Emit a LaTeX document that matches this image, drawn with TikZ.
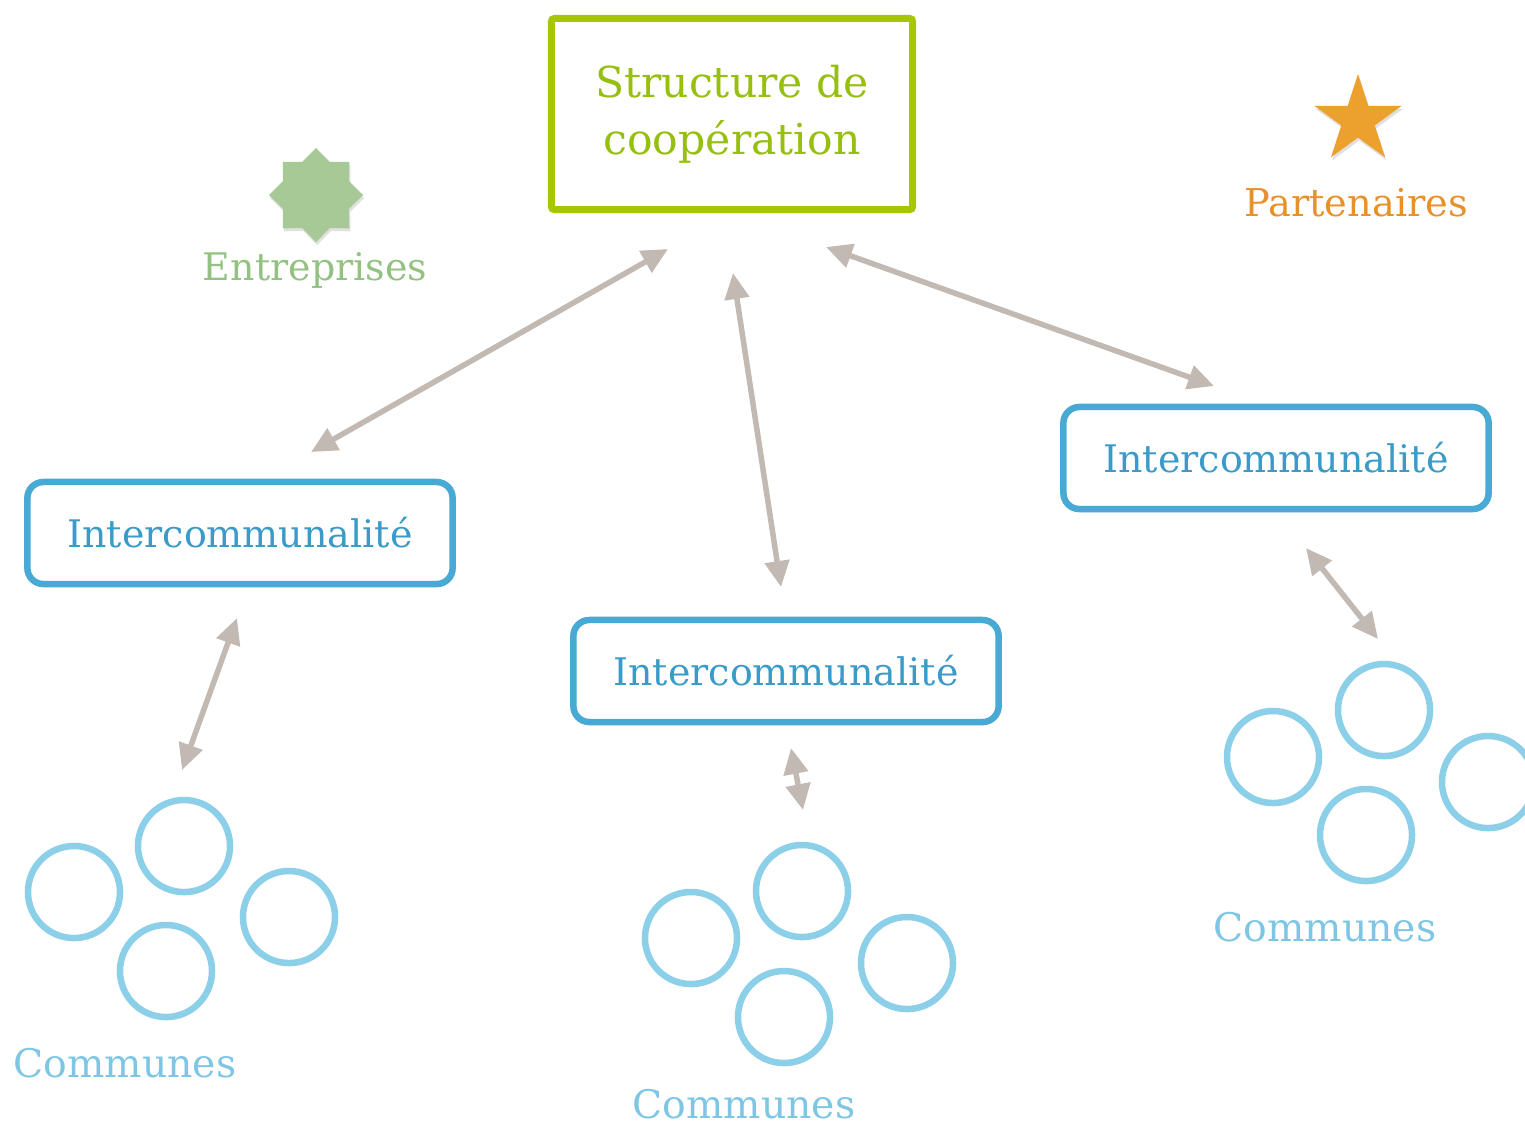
\documentclass[tikz,border=0pt]{standalone}
\usepackage{fontspec}
\setmainfont{DejaVu Serif}
\usepackage{xcolor}
\usetikzlibrary{shapes, arrows.meta, shadows, calc, positioning}
\definecolor{coopgreen}{HTML}{A5C600}
\definecolor{cooptext}{HTML}{97BF10}
\definecolor{entgreen}{HTML}{A6C996}
\definecolor{enttext}{HTML}{93C182}
\definecolor{partorange}{HTML}{ECA02E}
\definecolor{parttext}{HTML}{E8912A}
\definecolor{intblue}{HTML}{48A9D5}
\definecolor{inttext}{HTML}{3A9BC9}
\definecolor{comblue}{HTML}{8CCFE8}
\definecolor{comtext}{HTML}{7EC6E3}
\definecolor{linkgray}{HTML}{C2B9B3}
\tikzset{
    softshadow/.style = {drop shadow={shadow xshift=0.012cm, shadow yshift=-0.03cm, opacity=0.12, fill=black}},
    coopbox/.style = {draw=coopgreen, line width=0.07cm, fill=white, rounded corners=0.03cm,
        minimum width=3.61cm, minimum height=1.91cm, align=center, text=cooptext,
        font=\fontsize{12.1}{16.2}\selectfont, softshadow},
    interbox/.style = {draw=intblue, line width=0.065cm, fill=white, rounded corners=0.16cm,
        minimum width=4.25cm, minimum height=1.02cm, text=inttext,
        font=\fontsize{10.8}{13}\selectfont, softshadow},
    commune/.style = {circle, draw=comblue, line width=0.065cm, fill=white, minimum size=0.92cm,
        inner sep=0pt, softshadow},
    comlabel/.style = {text=comtext, inner sep=0pt, font=\fontsize{11.2}{13}\selectfont},
    link/.style = {draw=linkgray, line width=0.055cm, <->},
    >={Triangle[length=0.26cm, width=0.24cm]}
}
\begin{document}
\begin{tikzpicture}[x=0.01cm, y=-0.01cm]
    \useasboundingbox (0,0) rectangle (1525,1126);
    % structure and intercommunalities
    \node[coopbox] (coop) at (732,114) {Structure de\\coopération};
    \node[interbox] (IL) at (240,533) {Intercommunalité};
    \node[interbox] (IM) at (786,671) {Intercommunalité};
    \node[interbox] (IR) at (1276,458) {Intercommunalité};
    % side partners
    \node[star, star points=8, star point ratio=1.31, minimum size=0.94cm, inner sep=0pt,
        fill=entgreen, softshadow] (S1) at (316,195) {};
    \node[text=enttext, font=\fontsize{10.8}{12}\selectfont] (L1) at (315,270) {Entreprises};
    \node[star, star points=5, star point ratio=2.618, minimum size=0.92cm, inner sep=0pt,
        fill=partorange, softshadow] (S2) at (1358,120) {};
    \node[text=parttext, font=\fontsize{10.9}{12}\selectfont] (L2) at (1356,203) {Partenaires};
    % communes
    \foreach \n/\cx/\cy in {1/74/892, 2/184/846, 3/289/917, 4/166/971}{
        \node[commune] (CL\n) at (\cx,\cy) {};
    }
    \foreach \n/\cx/\cy in {1/691/938, 2/802/891, 3/907/963, 4/784/1017}{
        \node[commune] (CM\n) at (\cx,\cy) {};
    }
    \foreach \n/\cx/\cy in {1/1273/757, 2/1384/710, 3/1488/782, 4/1366/835}{
        \node[commune] (CR\n) at (\cx,\cy) {};
    }
    \node[comlabel] (KL) at (125,1063) {Communes};
    \node[comlabel] (KM) at (744,1104) {Communes};
    \node[comlabel] (KR) at (1325,927) {Communes};
    % arrow ends
    \coordinate (a1) at (311,452);  \coordinate (b1) at (668,249);
    \coordinate (a2) at (733,273);  \coordinate (b2) at (781,587);
    \coordinate (a3) at (826,247);  \coordinate (b3) at (1214,386);
    \coordinate (a4) at (237,618);  \coordinate (b4) at (182,770);
    \coordinate (a5) at (791,748);  \coordinate (b5) at (803,810);
    \coordinate (a6) at (1306,548); \coordinate (b6) at (1378,639);
    \draw[link] (a1) -- (b1);
    \draw[link] (a2) -- (b2);
    \draw[link] (a3) -- (b3);
    \draw[link] (a4) -- (b4);
    \draw[link] (a5) -- (b5);
    \draw[link] (a6) -- (b6);
\end{tikzpicture}
\end{document}
